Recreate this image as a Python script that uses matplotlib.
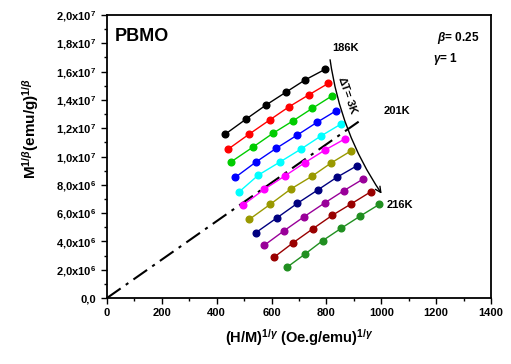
import matplotlib
matplotlib.use('Agg')
import matplotlib.pyplot as plt
from matplotlib.ticker import MultipleLocator, FixedLocator

plt.rcParams['font.family'] = ['Liberation Sans', 'DejaVu Sans']
plt.rcParams['font.weight'] = 'bold'
plt.rcParams['axes.labelweight'] = 'bold'
plt.rcParams['mathtext.fontset'] = 'custom'
plt.rcParams['mathtext.rm'] = 'Liberation Sans'
plt.rcParams['mathtext.it'] = 'Liberation Sans:italic'
plt.rcParams['mathtext.bf'] = 'Liberation Sans:bold'

# isotherms 186K .. 216K, dT = 3K ; x = (H/M)^(1/g), y = M^(1/b) in units of 1e6
temps = [186, 189, 192, 195, 198, 201, 204, 207, 210, 213, 216]
colors = ['#000000', '#ff0000', '#00cc00', '#0000ff', '#00ffff', '#ff00ff',
          '#999900', '#000080', '#990099', '#990000', '#208f20']

x_vals = [
    [432, 506, 580, 652, 722, 795],
    [441, 519, 593, 664, 737, 807],
    [453, 531, 605, 679, 749, 820],
    [468, 543, 617, 694, 766, 836],
    [480, 552, 632, 706, 780, 852],
    [496, 573, 648, 721, 795, 869],
    [519, 595, 670, 746, 817, 889],
    [542, 620, 694, 768, 838, 910],
    [573, 646, 719, 793, 863, 934],
    [609, 679, 751, 821, 891, 962],
    [656, 721, 786, 854, 924, 993],
]
y_vals = [
    [11.59, 12.63, 13.64, 14.54, 15.41, 16.16],
    [10.51, 11.59, 12.58, 13.52, 14.37, 15.17],
    [9.63, 10.65, 11.64, 12.53, 13.41, 14.28],
    [8.53, 9.61, 10.58, 11.52, 12.42, 13.24],
    [7.47, 8.69, 9.63, 10.51, 11.45, 12.28],
    [6.57, 7.68, 8.62, 9.56, 10.46, 11.26],
    [5.56, 6.62, 7.70, 8.59, 9.54, 10.39],
    [4.61, 5.67, 6.69, 7.63, 8.53, 9.33],
    [3.72, 4.76, 5.75, 6.71, 7.58, 8.41],
    [2.88, 3.91, 4.90, 5.84, 6.66, 7.51],
    [2.17, 3.09, 4.05, 4.93, 5.80, 6.62],
]

# dash-dot line through origin (201K)
line_x = [0, 935]
line_y = [0, 12.7]

y_ticks = [0, 2, 4, 6, 8, 10, 12, 14, 16, 18, 20]
y_tick_labels = ['0,0', r'2,0x10$^\mathbf{6}$', r'4,0x10$^\mathbf{6}$',
                 r'6,0x10$^\mathbf{6}$', r'8,0x10$^\mathbf{6}$',
                 r'1,0x10$^\mathbf{7}$', r'1,2x10$^\mathbf{7}$',
                 r'1,4x10$^\mathbf{7}$', r'1,6x10$^\mathbf{7}$',
                 r'1,8x10$^\mathbf{7}$', r'2,0x10$^\mathbf{7}$']
x_ticks = [0, 200, 400, 600, 800, 1000, 1200, 1400]

fig = plt.figure(figsize=(5.11, 3.64), dpi=100)
ax = fig.add_axes([107/511, 1 - 298/364, 384/511, 283/364])

ax.plot(line_x, line_y, color='k', ls=(0, (8, 3, 1.5, 3)), lw=1.5)

for xs, ys, c in zip(x_vals, y_vals, colors):
    ax.plot(xs, ys, color=c, lw=1.0, marker='o', ms=4.8, mec=c, mfc=c)

# curved arrow dT = 3K
ax.annotate('', xy=(1007, 7.21), xytext=(812, 17.03),
            arrowprops=dict(arrowstyle='->', color='k', lw=1.0,
                            connectionstyle='arc3,rad=0.12'))
ax.text(878, 14.3, r'$\Delta$T= 3K', rotation=-71, fontsize=8,
        ha='center', va='center')

ax.text(820, 17.3, '186K', fontsize=8, ha='left', va='bottom')
ax.text(1010, 13.2, '201K', fontsize=8, ha='left', va='center')
ax.text(1020, 6.6, '216K', fontsize=8, ha='left', va='center')

ax.text(0.02, 0.955, 'PBMO', transform=ax.transAxes, fontsize=13,
        ha='left', va='top')
ax.text(0.97, 0.92, r'$\beta$= 0.25', transform=ax.transAxes, fontsize=8.5,
        ha='right', va='center')
ax.text(0.915, 0.845, r'$\gamma$= 1', transform=ax.transAxes, fontsize=8.5,
        ha='right', va='center')

ax.set_xlim(0, 1400)
ax.set_ylim(0, 20)
ax.xaxis.set_major_locator(FixedLocator(x_ticks))
ax.xaxis.set_minor_locator(MultipleLocator(100))
ax.yaxis.set_major_locator(FixedLocator(y_ticks))
ax.yaxis.set_minor_locator(MultipleLocator(1))
ax.set_yticklabels(y_tick_labels)
ax.set_xticklabels([str(v) for v in x_ticks])
ax.tick_params(which='major', direction='out', length=4, width=1, labelsize=8)
ax.tick_params(which='minor', direction='out', length=2, width=1)
for s in ax.spines.values():
    s.set_linewidth(1.3)

ax.set_xlabel(r'(H/M)$^{1/\gamma}$ (Oe.g/emu)$^{1/\gamma}$', fontsize=10.5, labelpad=6)
ax.set_ylabel(r'M$^{1/\beta}$(emu/g)$^{1/\beta}$', fontsize=11)
ax.yaxis.set_label_coords(-0.172, 0.6)

fig.savefig('out.png', dpi=100)
